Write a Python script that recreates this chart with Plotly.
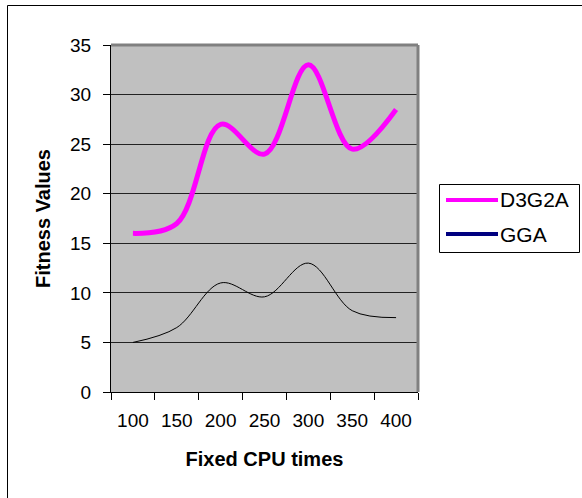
import plotly.graph_objects as go

# ---- data ----
cpu_times = ["100", "150", "200", "250", "300", "350", "400"]
d3g2a = [16, 17, 27, 24, 33, 24.5, 28.5]
gga = [5, 6.5, 11, 9.6, 13, 8.2, 7.5]
series_names = ["D3G2A", "GGA"]
y_ticks = [0, 5, 10, 15, 20, 25, 30, 35]

# ---- layout geometry (pixels) ----
W, H = 582, 498
PL, PR, PT, PB = 111, 418, 45, 392  # plot area edges
pw, ph = PR - PL, PB - PT


def px(x):
    return (x - PL) / pw


def py(y):
    return (PB - y) / ph


FONT = "Arial, Liberation Sans, sans-serif"

fig = go.Figure()
fig.add_trace(go.Scatter(x=cpu_times, y=d3g2a, name=series_names[0], mode="lines",
                         line=dict(color="#FF00FF", width=5, shape="spline", smoothing=1),
                         showlegend=False, hoverinfo="skip"))
fig.add_trace(go.Scatter(x=cpu_times, y=gga, name=series_names[1], mode="lines",
                         line=dict(color="#000000", width=1, shape="spline", smoothing=1),
                         showlegend=False, hoverinfo="skip"))

shapes = []
# plot area top/right gray border
shapes.append(dict(type="line", xref="paper", yref="paper", x0=0, x1=1, y0=1, y1=1,
                   line=dict(color="#808080", width=3)))
shapes.append(dict(type="line", xref="paper", yref="paper", x0=1, x1=1, y0=0, y1=1,
                   line=dict(color="#808080", width=3)))
# outer chart border
shapes.append(dict(type="rect", xref="paper", yref="paper",
                   x0=px(7.5), x1=px(W + 20), y0=py(H + 20), y1=py(5.5),
                   line=dict(color="#000000", width=1)))
# legend box
shapes.append(dict(type="rect", xref="paper", yref="paper",
                   x0=px(439.5), x1=px(579.5), y0=py(252.5), y1=py(184.5),
                   line=dict(color="#000000", width=1), fillcolor="white"))
legend_colors = ["#FF00FF", "#000080"]
legend_y = [200, 234]
annotations = []
for name, col, ly in zip(series_names, legend_colors, legend_y):
    shapes.append(dict(type="line", xref="paper", yref="paper",
                       x0=px(446), x1=px(498), y0=py(ly), y1=py(ly),
                       line=dict(color=col, width=4)))
    annotations.append(dict(xref="paper", yref="paper", x=px(498), y=py(ly),
                            text=name, showarrow=False, xanchor="left", yanchor="middle",
                            font=dict(family=FONT, size=21, color="black")))

fig.update_layout(
    width=W, height=H,
    margin=dict(l=PL, r=W - PR, t=PT, b=H - PB),
    paper_bgcolor="white", plot_bgcolor="#C0C0C0",
    font=dict(family=FONT, size=19, color="black"),
    shapes=shapes, annotations=annotations,
    showlegend=False,
)
fig.update_xaxes(type="category", range=[-0.5, 6.5], tickson="boundaries",
                 ticks="outside", ticklen=7, tickcolor="black", tickwidth=1,
                 showline=True, linecolor="black", linewidth=1, showgrid=False,
                 zeroline=False, ticklabelstandoff=11,
                 title=dict(text="<b>Fixed CPU times</b>", font=dict(size=20), standoff=22))
fig.update_yaxes(range=[0, 35], tickvals=y_ticks, ticks="outside", ticklen=7,
                 tickcolor="black", tickwidth=1, showline=True, linecolor="black",
                 linewidth=1, showgrid=True, gridcolor="#222222", gridwidth=1,
                 zeroline=False, ticklabelstandoff=8,
                 title=dict(text="<b>Fitness Values</b>", font=dict(size=20), standoff=14))

fig.write_html("out.html")
